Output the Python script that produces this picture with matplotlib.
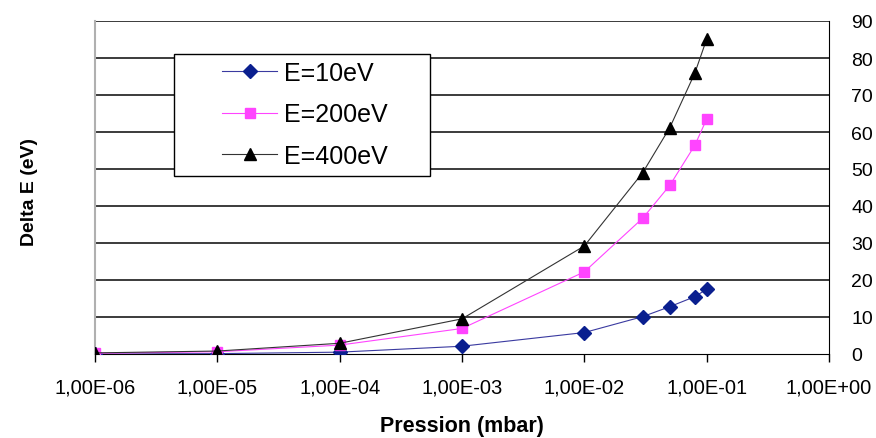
import matplotlib
matplotlib.use('Agg')
import matplotlib.pyplot as plt
from matplotlib.patches import Rectangle
from matplotlib.ticker import FixedLocator, NullLocator

plt.rcParams['font.family'] = ['Liberation Sans', 'DejaVu Sans']

# Data
pression = [1e-6, 1e-5, 1e-4, 1e-3, 1e-2, 3e-2, 5e-2, 8e-2, 1e-1]
e10 = [0.0, 0.1, 0.5, 2.1, 5.8, 10.1, 12.8, 15.5, 17.5]
e200 = [0.2, 0.6, 2.4, 6.9, 22.2, 36.7, 45.6, 56.4, 63.5]
e400 = [0.3, 0.8, 2.9, 9.5, 29.2, 49.0, 61.2, 75.9, 85.1]

xticks = [1e-6, 1e-5, 1e-4, 1e-3, 1e-2, 1e-1, 1e0]
xlabels = ['1,00E-06', '1,00E-05', '1,00E-04', '1,00E-03', '1,00E-02', '1,00E-01', '1,00E+00']
yticks = list(range(0, 91, 10))

W, H = 876, 439
fig = plt.figure(figsize=(W / 100, H / 100), dpi=100)
ax = fig.add_axes([95 / W, 1 - 355 / H, (829 - 95) / W, (355 - 22) / H])

ax.set_xscale('log')
ax.set_xlim(1e-6, 1e0)
ax.set_ylim(0, 90)

# horizontal grid
for y in yticks[1:]:
    ax.axhline(y, color='#1a1a1a', lw=1.2, zorder=1)

ax.plot(pression, e10, color='#3a3aa0', lw=0.8, marker='D', ms=7,
        mfc='#0a1f8f', mec='#0a1f8f', label='E=10eV', zorder=3)
ax.plot(pression, e200, color='#ff44ff', lw=0.8, marker='s', ms=6.8,
        mfc='#ff44ff', mec='#ff44ff', label='E=200eV', zorder=3)
ax.plot(pression, e400, color='#333333', lw=0.8, marker='^', ms=9,
        mfc='black', mec='black', label='E=400eV', zorder=4)

ax.xaxis.set_major_locator(FixedLocator(xticks))
ax.xaxis.set_minor_locator(NullLocator())
ax.set_xticklabels(xlabels, fontsize=14.5)
ax.tick_params(axis='x', direction='out', length=6, width=1, pad=11)

ax.yaxis.tick_right()
ax.set_yticks(yticks)
ax.set_yticklabels([str(v) for v in yticks], fontsize=14)
ax.tick_params(axis='y', direction='out', length=0, pad=16)

ax.spines['top'].set_visible(False)
ax.spines['left'].set_color('#b0b0b0')
ax.spines['left'].set_linewidth(1.5)
ax.spines['right'].set_color('black')
ax.spines['bottom'].set_color('black')

fig.text(462 / W, 1 - 427 / H, 'Pression (mbar)', fontsize=15.5,
         fontweight='bold', ha='center', va='center')
fig.text(30 / W, 1 - 192 / H, 'Delta E (eV)', rotation=90, fontsize=14,
         fontweight='bold', ha='center', va='center')

# legend box and entries
fig.patches.append(Rectangle((174 / W, 1 - 177 / H), (430 - 174) / W, (177 - 55) / H,
                             transform=fig.transFigure, facecolor='white',
                             edgecolor='black', lw=1.0, zorder=5))
leg = fig.legend(loc='upper left', bbox_to_anchor=(222 / W, 1 - 62 / H),
                 bbox_transform=fig.transFigure, fontsize=18, frameon=False,
                 borderpad=0, labelspacing=0.7, handlelength=2.2,
                 handletextpad=0.3, borderaxespad=0)
leg.set_zorder(6)

fig.savefig('out.png', dpi=100)
